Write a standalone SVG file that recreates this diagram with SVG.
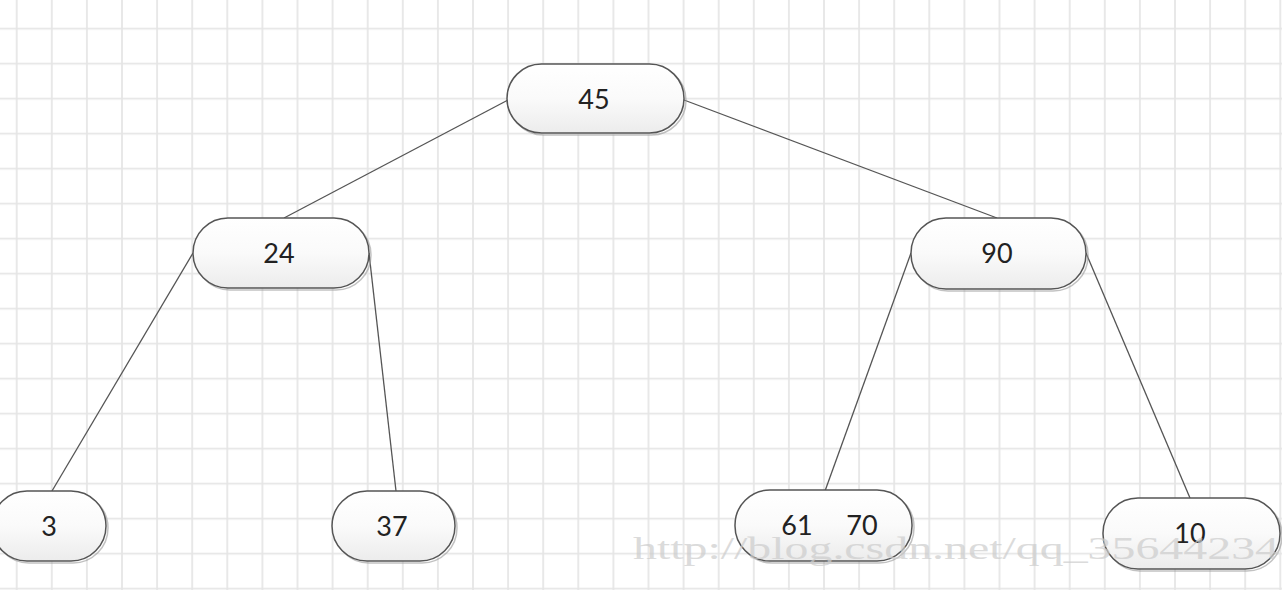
<svg xmlns="http://www.w3.org/2000/svg" width="1282" height="598" viewBox="0 0 1282 598">
  <defs>
    <pattern id="grid" patternUnits="userSpaceOnUse" x="-0.85" y="11.2" width="35.1" height="35">
      <rect x="16.7" y="0" width="1.7" height="35" fill="#e5e5e5"/>
      <rect x="0" y="16.65" width="35.1" height="1.7" fill="#e5e5e5"/>
    </pattern>
    <linearGradient id="nodeFill" x1="0" y1="0" x2="0" y2="1">
      <stop offset="0" stop-color="#ffffff"/>
      <stop offset="0.5" stop-color="#fafafa"/>
      <stop offset="1" stop-color="#ececec"/>
    </linearGradient>
  </defs>
  <style>
    .node rect.body { fill: url(#nodeFill); stroke: #555555; stroke-width: 1.5; }
    .node rect.shadow { fill: none; stroke: #9a9a9a; stroke-width: 1.5; opacity: 0.6; }
    .node text { font-family: Lato, "Open Sans", "Liberation Sans", sans-serif; font-size: 27px; fill: #222222; text-anchor: middle; dominant-baseline: central; }
    .edges line { stroke: #555555; stroke-width: 1.3; }
    .wm { font-family: "Liberation Serif", "DejaVu Serif", serif; font-size: 32px; fill: #cccccc; opacity: 0.7; }
  </style>
  <rect x="0" y="0" width="1282" height="598" fill="#ffffff"/>
  <rect x="0" y="0" width="1282" height="590" fill="url(#grid)"/>

  <g id="connectors" class="edges">
    <line x1="508" y1="100" x2="284" y2="218"/>
    <line x1="684" y1="100" x2="997" y2="218"/>
    <line x1="193" y1="253" x2="52" y2="491"/>
    <line x1="369" y1="253" x2="396" y2="491"/>
    <line x1="911" y1="253" x2="825" y2="491"/>
    <line x1="1086" y1="253" x2="1190" y2="498"/>
  </g>

  <g id="node-45" class="node">
    <rect class="shadow" x="509" y="66" width="177" height="69" rx="34.5"/>
    <rect class="body" x="507" y="64" width="177" height="69" rx="34.5"/>
    <text x="594" y="98">45</text>
  </g>
  <g id="node-24" class="node">
    <rect class="shadow" x="195" y="220" width="176" height="70" rx="35"/>
    <rect class="body" x="193" y="218" width="176" height="70" rx="35"/>
    <text x="279" y="252">24</text>
  </g>
  <g id="node-90" class="node">
    <rect class="shadow" x="913" y="220" width="175" height="71" rx="35"/>
    <rect class="body" x="911" y="218" width="175" height="71" rx="35"/>
    <text x="997" y="252">90</text>
  </g>
  <g id="node-3" class="node">
    <rect class="shadow" x="-6" y="493" width="114" height="70" rx="35"/>
    <rect class="body" x="-8" y="491" width="114" height="70" rx="35"/>
    <text x="49" y="525">3</text>
  </g>
  <g id="node-37" class="node">
    <rect class="shadow" x="334" y="493" width="123" height="70" rx="35"/>
    <rect class="body" x="332" y="491" width="123" height="70" rx="35"/>
    <text x="392" y="525">37</text>
  </g>
  <g id="node-61-70" class="node">
    <rect class="shadow" x="737" y="492" width="177" height="71" rx="35"/>
    <rect class="body" x="735" y="490" width="177" height="71" rx="35"/>
    <text y="524"><tspan x="797">61</tspan><tspan x="862">70</tspan></text>
  </g>
  <g id="node-10" class="node">
    <rect class="shadow" x="1105" y="500" width="177" height="71" rx="35"/>
    <rect class="body" x="1103" y="498" width="177" height="71" rx="35"/>
    <text x="1190" y="532">10</text>
  </g>

  <text class="wm" x="633" y="559" textLength="646" lengthAdjust="spacingAndGlyphs">http://blog.csdn.net/qq_35644234</text>
</svg>
